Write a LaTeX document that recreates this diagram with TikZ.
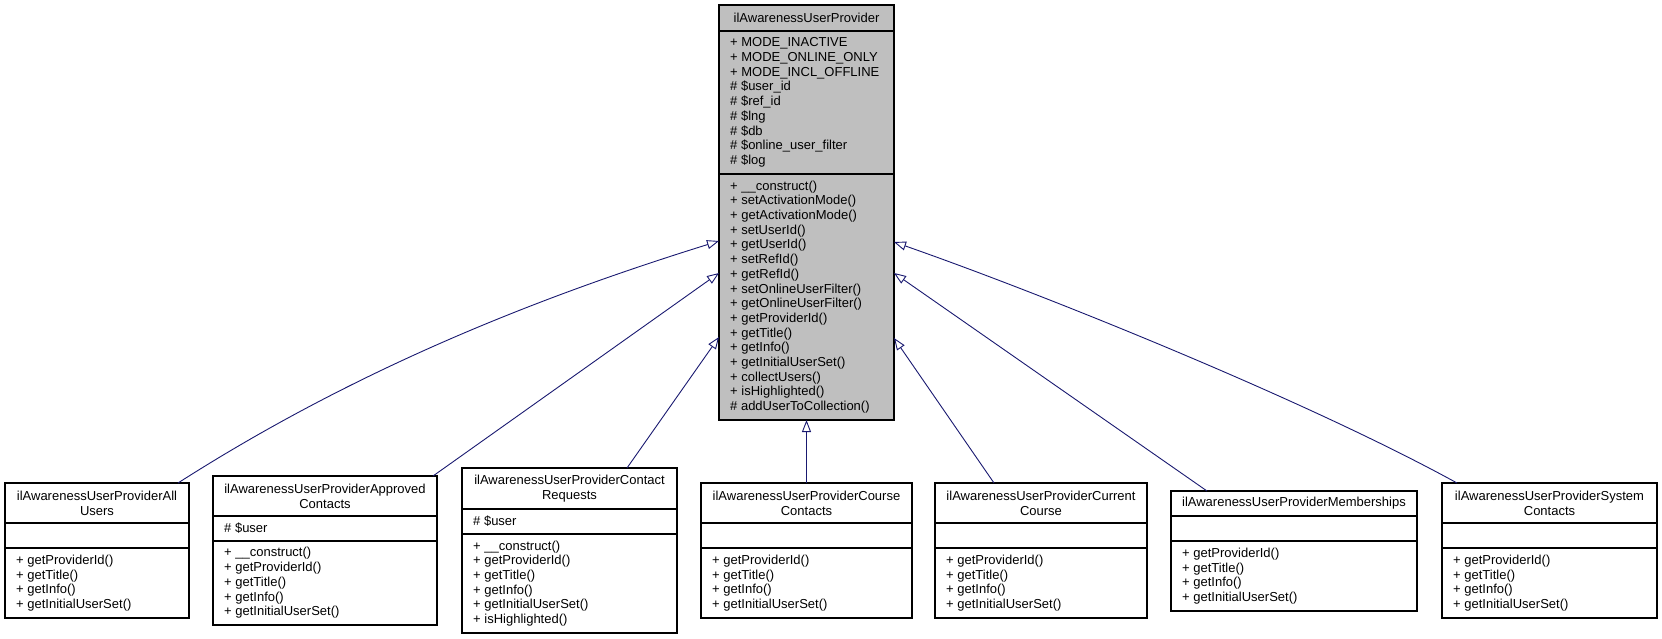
\documentclass[tikz,border=0pt]{standalone}
\usepackage{fontspec}
\setmainfont{Liberation Sans}
\usetikzlibrary{arrows.meta}
\definecolor{edgeblue}{HTML}{191970}
\definecolor{basegray}{HTML}{BFBFBF}
\begin{document}
\begin{tikzpicture}[x=1pt,y=-1pt,
  cls/.style={draw=black, line width=1.1pt, fill=white, inner sep=0pt, outer sep=0pt, anchor=north west},
  base/.style={cls, fill=basegray},
  sepline/.style={draw=black, line width=1.1pt},
  ttl/.style={inner sep=0pt, align=center, font=\fontsize{13}{15}\selectfont},
  mem/.style={inner sep=0pt, anchor=west, align=left, font=\fontsize{13}{14.7}\selectfont},
  inh/.style={draw=edgeblue, line width=0.9pt, -{Triangle[open, length=12pt, width=9pt]}}
]
\useasboundingbox (0,0) rectangle (1662,639);

% base class
\node[base, minimum width=175pt, minimum height=415pt] (m) at (719,5) {};
\draw[sepline] (719,31) -- (894,31);
\draw[sepline] (719,174) -- (894,174);
\node[ttl] (mt) at (806.5,18) {ilAwarenessUserProvider};
\node[mem] (ma) at (730,102.5) {+ MODE\_INACTIVE\\+ MODE\_ONLINE\_ONLY\\+ MODE\_INCL\_OFFLINE\\\# \$user\_id\\\# \$ref\_id\\\# \$lng\\\# \$db\\\# \$online\_user\_filter\\\# \$log};
\node[mem] (mm) at (730,297) {+ \_\_construct()\\+ setActivationMode()\\+ getActivationMode()\\+ setUserId()\\+ getUserId()\\+ setRefId()\\+ getRefId()\\+ setOnlineUserFilter()\\+ getOnlineUserFilter()\\+ getProviderId()\\+ getTitle()\\+ getInfo()\\+ getInitialUserSet()\\+ collectUsers()\\+ isHighlighted()\\\# addUserToCollection()};

% n1
\node[cls, minimum width=184pt, minimum height=135pt] (n1) at (5,483) {};
\draw[sepline] (5,523) -- (189,523);
\draw[sepline] (5,548) -- (189,548);
\node[ttl] (n1t) at (97,503) {ilAwarenessUserProviderAll\\Users};
\node[mem] (n1m) at (16,583) {+ getProviderId()\\+ getTitle()\\+ getInfo()\\+ getInitialUserSet()};

% n2
\node[cls, minimum width=224pt, minimum height=149pt] (n2) at (213,476) {};
\draw[sepline] (213,516) -- (437,516);
\draw[sepline] (213,541) -- (437,541);
\node[ttl] (n2t) at (325,496) {ilAwarenessUserProviderApproved\\Contacts};
\node[mem] (n2a) at (224,528.5) {\# \$user};
\node[mem] (n2m) at (224,583) {+ \_\_construct()\\+ getProviderId()\\+ getTitle()\\+ getInfo()\\+ getInitialUserSet()};

% n3
\node[cls, minimum width=215pt, minimum height=165pt] (n3) at (462,468) {};
\draw[sepline] (462,509) -- (677,509);
\draw[sepline] (462,534) -- (677,534);
\node[ttl] (n3t) at (569.5,488.5) {ilAwarenessUserProviderContact\\Requests};
\node[mem] (n3a) at (473,521.5) {\# \$user};
\node[mem] (n3m) at (473,583.5) {+ \_\_construct()\\+ getProviderId()\\+ getTitle()\\+ getInfo()\\+ getInitialUserSet()\\+ isHighlighted()};

% n4
\node[cls, minimum width=211pt, minimum height=135pt] (n4) at (701,483) {};
\draw[sepline] (701,523) -- (912,523);
\draw[sepline] (701,548) -- (912,548);
\node[ttl] (n4t) at (806.5,503) {ilAwarenessUserProviderCourse\\Contacts};
\node[mem] (n4m) at (712,583) {+ getProviderId()\\+ getTitle()\\+ getInfo()\\+ getInitialUserSet()};

% n5
\node[cls, minimum width=212pt, minimum height=135pt] (n5) at (935,483) {};
\draw[sepline] (935,523) -- (1147,523);
\draw[sepline] (935,548) -- (1147,548);
\node[ttl] (n5t) at (1041,503) {ilAwarenessUserProviderCurrent\\Course};
\node[mem] (n5m) at (946,583) {+ getProviderId()\\+ getTitle()\\+ getInfo()\\+ getInitialUserSet()};

% n6
\node[cls, minimum width=246pt, minimum height=120pt] (n6) at (1171,491) {};
\draw[sepline] (1171,516) -- (1417,516);
\draw[sepline] (1171,541) -- (1417,541);
\node[ttl] (n6t) at (1294,503.5) {ilAwarenessUserProviderMemberships};
\node[mem] (n6m) at (1182,576) {+ getProviderId()\\+ getTitle()\\+ getInfo()\\+ getInitialUserSet()};

% n7
\node[cls, minimum width=215pt, minimum height=135pt] (n7) at (1442,483) {};
\draw[sepline] (1442,523) -- (1657,523);
\draw[sepline] (1442,548) -- (1657,548);
\node[ttl] (n7t) at (1549.5,503) {ilAwarenessUserProviderSystem\\Contacts};
\node[mem] (n7m) at (1453,583) {+ getProviderId()\\+ getTitle()\\+ getInfo()\\+ getInitialUserSet()};

% inheritance edges
\draw[inh] ([xshift=173pt]n1.north west) .. controls (358,368) and (539,297) .. ([yshift=-236pt]m.north west);
\draw[inh] ([xshift=220pt]n2.north west) -- ([yshift=-268pt]m.north west);
\draw[inh] ([xshift=165pt]n3.north west) -- ([yshift=-332pt]m.north west);
\draw[inh] (n4.north) -- (m.south);
\draw[inh] ([xshift=59pt]n5.north west) -- ([yshift=-333pt]m.north east);
\draw[inh] ([xshift=36pt]n6.north west) -- ([yshift=-268pt]m.north east);
\draw[inh] ([xshift=15pt]n7.north west) .. controls (1307,400.5) and (1044,294.5) .. ([yshift=-237pt]m.north east);
\end{tikzpicture}
\end{document}
